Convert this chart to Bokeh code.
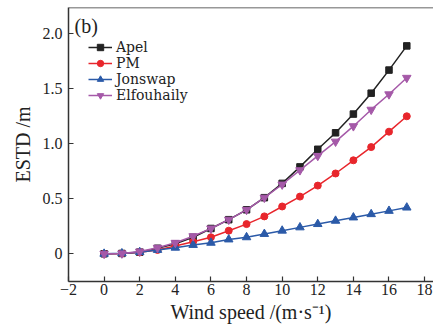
from bokeh.plotting import figure
from bokeh.models import Legend, LegendItem, Label, Span, FixedTicker, Range1d
from bokeh.embed import file_html
from bokeh.resources import INLINE

wind = [0, 1, 2, 3, 4, 5, 6, 7, 8, 9, 10, 11, 12, 13, 14, 15, 16, 17]
apel = [0, 0.003, 0.015, 0.05, 0.09, 0.15, 0.23, 0.31, 0.40, 0.51, 0.64, 0.79, 0.95, 1.10, 1.27, 1.46, 1.67, 1.89]
pm = [0, 0.003, 0.015, 0.035, 0.07, 0.11, 0.15, 0.21, 0.27, 0.34, 0.43, 0.52, 0.62, 0.73, 0.85, 0.97, 1.11, 1.25]
jonswap = [0, 0.004, 0.015, 0.035, 0.055, 0.08, 0.10, 0.13, 0.15, 0.18, 0.21, 0.24, 0.27, 0.30, 0.33, 0.36, 0.39, 0.42]
elfouhaily = [0, 0.003, 0.02, 0.055, 0.10, 0.16, 0.23, 0.31, 0.40, 0.51, 0.63, 0.76, 0.89, 1.02, 1.16, 1.31, 1.45, 1.60]

x_ticks = [-2, 0, 2, 4, 6, 8, 10, 12, 14, 16, 18]
y_ticks = [0, 0.5, 1.0, 1.5, 2.0]
y_tick_labels = ["0", "0.5", "1.0", "1.5", "2.0"]

FONT = "'Liberation Serif', serif"
LEG_FONT = "'DejaVu Serif', serif"
Y_END = 2.239

p = figure(width=433, height=331, output_backend="svg", toolbar_location=None,
           x_range=Range1d(-2, 18.5), y_range=Range1d(-0.252, Y_END),
           min_border_left=68, min_border_right=0, min_border_top=7, min_border_bottom=50)
p.outline_line_color = None
p.grid.visible = False
p.background_fill_color = "white"

for ax in (p.xaxis[0], p.yaxis[0]):
    ax.axis_line_width = 1.5
    ax.axis_line_color = "#333333"
    ax.major_tick_line_color = "#333333"
    ax.major_tick_line_width = 1.2
    ax.major_tick_in = 5
    ax.major_tick_out = 0
    ax.minor_tick_line_color = None
    ax.major_label_text_font = FONT
    ax.major_label_text_font_size = "16px"
    ax.major_label_text_font_style = "normal"
    ax.major_label_text_color = "#222222"
    ax.axis_label_text_font = FONT
    ax.axis_label_text_font_size = "20px"
    ax.axis_label_text_font_style = "normal"
    ax.axis_label_text_color = "#222222"

p.xaxis.ticker = FixedTicker(ticks=x_ticks)
p.yaxis.ticker = FixedTicker(ticks=y_ticks)
p.xaxis.major_label_overrides = {-2: "\u22122"}
p.yaxis.major_label_overrides = {t: s for t, s in zip(y_ticks, y_tick_labels)}
p.xaxis.axis_label = "Wind speed /(m\u00b7s\u207b\u00b9)"
p.yaxis.axis_label = "ESTD /m"
p.xaxis.major_label_standoff = 2
p.xaxis.axis_label_standoff = 3
p.yaxis.major_label_standoff = 6
p.yaxis.axis_label_standoff = 6

top = Span(location=Y_END, dimension="width", line_color="#333333", line_width=1.5)
p.add_layout(top)

series = [
    ("Apel", apel, "#222222", "square", 6.5),
    ("PM", pm, "#e8262c", "circle", 7),
    ("Jonswap", jonswap, "#2b5aa8", "triangle", 8.5),
    ("Elfouhaily", elfouhaily, "#a559a8", "inverted_triangle", 8.5),
]
legend_y = [226.2, 210.5, 193.8, 177.8]
for (name, ys, color, marker, size), ly in zip(series, legend_y):
    l = p.line(wind, ys, line_color=color, line_width=1.5)
    s = p.scatter(wind, ys, marker=marker, size=size, fill_color=color, line_color=color)
    leg = Legend(items=[LegendItem(label=name, renderers=[l, s])], location=(20, ly),
                 padding=0, margin=0, spacing=0,
                 glyph_width=24, glyph_height=16, label_height=16, label_standoff=4,
                 label_text_font=LEG_FONT, label_text_font_size="14px",
                 label_text_color="#222222",
                 border_line_color=None, background_fill_alpha=0)
    p.add_layout(leg, "center")

lab = Label(x=6, y=245, x_units="screen", y_units="screen", text="(b)",
            text_font=FONT, text_font_size="20px", text_color="#222222")
p.add_layout(lab)

open("out.html", "w").write(file_html(p, INLINE))
